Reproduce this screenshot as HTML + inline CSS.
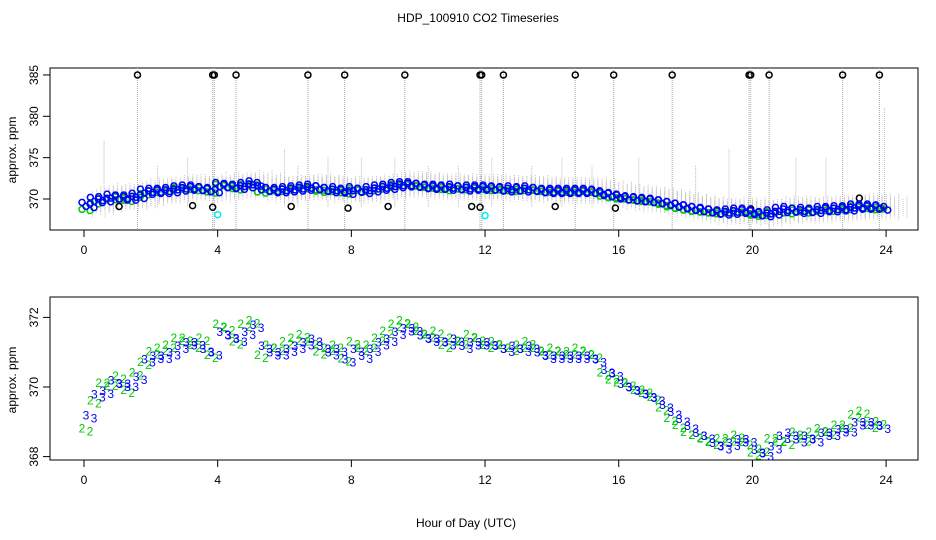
<!DOCTYPE html>
<html><head><meta charset="utf-8"><style>
body{margin:0;background:#fff}
svg{display:block;font-family:"Liberation Sans",sans-serif}
</style></head><body>
<svg id="c" width="936" height="540" xmlns="http://www.w3.org/2000/svg">
<text x="478" y="22" font-size="12" text-anchor="middle">HDP_100910  CO2 Timeseries</text>
<text x="466" y="527" font-size="12" text-anchor="middle">Hour of Day (UTC)</text>
<text transform="translate(16,150) rotate(-90)" font-size="12" text-anchor="middle">approx. ppm</text>
<text transform="translate(16,380) rotate(-90)" font-size="12" text-anchor="middle">approx. ppm</text>
<g id="top"></g>
<g id="bot"></g>
</svg>
<script>
const hours=[0,0.25,0.5,0.75,1,1.25,1.5,1.75,2,2.25,2.5,2.75,3,3.25,3.5,3.75,4,4.25,4.5,4.75,5,5.25,5.5,5.75,6,6.25,6.5,6.75,7,7.25,7.5,7.75,8,8.25,8.5,8.75,9,9.25,9.5,9.75,10,10.25,10.5,10.75,11,11.25,11.5,11.75,12,12.25,12.5,12.75,13,13.25,13.5,13.75,14,14.25,14.5,14.75,15,15.25,15.5,15.75,16,16.25,16.5,16.75,17,17.25,17.5,17.75,18,18.25,18.5,18.75,19,19.25,19.5,19.75,20,20.25,20.5,20.75,21,21.25,21.5,21.75,22,22.25,22.5,22.75,23,23.25,23.5,23.75];
const blueVals=[369.3,369.9,370.0,370.3,370.2,370.2,370.4,370.9,371.0,371.0,371.1,371.3,371.4,371.4,371.2,371.1,371.7,371.6,371.5,371.7,371.9,371.3,371.1,371.1,371.2,371.3,371.4,371.5,371.3,371.1,371.2,370.9,371.2,371.0,371.2,371.4,371.5,371.7,371.8,371.8,371.6,371.5,371.5,371.4,371.5,371.3,371.4,371.4,371.4,371.3,371.2,371.3,371.2,371.3,371.1,371.0,371.0,371.0,371.0,371.0,371.0,370.9,370.6,370.5,370.2,370.1,370.0,369.9,369.8,369.6,369.4,369.2,369.0,368.8,368.7,368.5,368.4,368.5,368.6,368.6,368.3,368.2,368.4,368.7,368.8,368.6,368.7,368.6,368.8,368.8,368.9,368.9,369.1,369.1,369.1,369.0];
const greenVals=[368.9,369.7,370.2,370.2,370.4,370.0,370.5,370.8,371.1,371.2,371.3,371.5,371.5,371.3,371.5,371.0,371.9,371.8,371.4,371.9,372.0,371.0,371.3,371.2,371.4,371.5,371.6,371.4,371.1,371.2,371.3,370.9,371.4,371.2,371.3,371.5,371.7,371.9,372.0,371.9,371.7,371.6,371.7,371.3,371.5,371.4,371.6,371.5,371.3,371.4,371.3,371.2,371.3,371.4,371.2,371.1,371.2,371.1,371.1,371.2,371.1,371.0,370.5,370.3,370.3,370.2,370.0,370.0,369.8,369.5,369.2,369.0,368.8,368.7,368.6,368.5,368.6,368.6,368.7,368.5,368.2,368.3,368.6,368.6,368.5,368.8,368.6,368.8,368.9,368.8,369.0,369.0,369.3,369.4,369.0,369.1];
const spikeHours=[1.6,3.85,3.9,4.55,6.7,7.8,9.6,11.85,11.9,12.55,14.7,15.85,17.6,19.9,19.95,20.5,22.7,23.8];
const midSpikeHours=[0.6,2.2,3.1,6.0,6.4,7.3,8.3,9.3,10.3,11.2,12.2,13.4,14.3,15.2,16.6,18.3,19.3,21.3,22.2,23.95];
const midSpikeVals=[377,374,375,376,374,375,375,375,374,374,375,374,375,374,375,374,376,375,375,381];
const lowHours=[1.05,3.25,3.85,6.2,7.9,9.1,11.6,11.85,14.1,15.9,19.95,23.2,23.85];
const lowVals=[369.1,369.2,369.0,369.1,368.9,369.1,369.1,369.0,369.1,368.9,368.8,370.1,368.9];
const cyanHours=[4.0,12.0,20.0];
const cyanVals=[368.1,368.0,368.1];
const xTicks=[0,4,8,12,16,20,24];
const topTicks=[370,375,380,385];
const botTicks=[368,370,372];

const NS="http://www.w3.org/2000/svg";
function mk(p,t,a){const e=document.createElementNS(NS,t);for(const k in a)e.setAttribute(k,a[k]);p.appendChild(e);return e;}
const X=h=>84+h*33.42;
const YT=v=>199-(v-370)*8.27;
const YB=v=>387-(v-370)*34.8;
const topG=document.getElementById('top'),botG=document.getElementById('bot');
// marker scatter pattern (pixel styling offsets)
const jdx=[-6,-2,2,6];
const jdyB=[-6,4,-2,7];
const jdyG=[3,-5,6,-1];

function frame(g,y0,y1,ticks,Y,nm){
  const r=mk(g,'rect',{x:50,y:y0,width:868,height:y1-y0,fill:'none',stroke:'#000'});
  
  
  xTicks.forEach(t=>{
    mk(g,'line',{x1:X(t),x2:X(t),y1:y1,y2:y1+7,stroke:'#000'});
    const tx=mk(g,'text',{x:X(t),y:y1+24,'font-size':12,'text-anchor':'middle'});
    tx.textContent=t;
    
    
  });
  ticks.forEach(t=>{
    mk(g,'line',{x1:43,x2:50,y1:Y(t),y2:Y(t),stroke:'#000'});
    const tx=mk(g,'text',{transform:`translate(38,${Y(t)}) rotate(-90)`,'font-size':12,'text-anchor':'middle'});
    tx.textContent=t;
    
    
  });
}
frame(topG,68,230,topTicks,YT,'top');
frame(botG,297,460,botTicks,YB,'bottom');

const noise=mk(topG,'g',{stroke:'#c4c4c4','stroke-width':1,'stroke-dasharray':'1,1'});


hours.forEach((h,i)=>{
  for(let k=0;k<8;k++){const x=X(h)+k*4.2;const e=(k%3)*0.3;mk(noise,'line',{x1:x,x2:x,y1:YT(blueVals[i]+1.0+e),y2:YT(blueVals[i]-1.0-e)});}
});
midSpikeHours.forEach((h,i)=>{
  const l=mk(topG,'line',{x1:X(h),x2:X(h),y1:YT(midSpikeVals[i]),y2:YT(369),stroke:'#bbb','stroke-dasharray':'1,1'});
  
  
});
spikeHours.forEach(h=>{
  const l=mk(topG,'line',{x1:X(h),x2:X(h),y1:68,y2:230,stroke:'#aaa','stroke-dasharray':'1,1'});
  
  
  const c=mk(topG,'circle',{cx:X(h),cy:YT(385),r:3,fill:'none',stroke:'#000','stroke-width':1.5});
  
  
});
lowHours.forEach((h,i)=>{
  const c=mk(topG,'circle',{cx:X(h),cy:YT(lowVals[i]),r:3,fill:'none',stroke:'#000','stroke-width':1.5});
  
  
});
cyanHours.forEach((h,i)=>{
  const c=mk(topG,'circle',{cx:X(h),cy:YT(cyanVals[i]),r:3,fill:'none',stroke:'#0ee','stroke-width':1.5});
  
  
});
hours.forEach((h,i)=>{
  [0,2].forEach(k=>{
    const g=mk(topG,'circle',{cx:X(h)+jdx[k]+4,cy:YT(greenVals[i])+jdyG[k]*0.4,r:3,fill:'none',stroke:'#0c0','stroke-width':1.5});
    
    
  });
});
hours.forEach((h,i)=>{
  for(let k=0;k<4;k++){
    const c=mk(topG,'circle',{cx:X(h)+jdx[k]+4,cy:YT(blueVals[i])+jdyB[k]*0.4,r:3,fill:'none',stroke:'#00f','stroke-width':1.5});
    
    
  }
});

hours.forEach((h,i)=>{
  [0,2].forEach(k=>{
    const t=mk(botG,'text',{x:X(h)+jdx[k]+4,y:YB(greenVals[i])+4+jdyG[k],'font-size':12,fill:'#0c0','text-anchor':'middle'});
    t.textContent='2';
    
    
  });
});
hours.forEach((h,i)=>{
  [1,3].forEach(k=>{
    const t=mk(botG,'text',{x:X(h)+jdx[k]+4,y:YB(blueVals[i])+4+jdyB[k],'font-size':12,fill:'#00f','text-anchor':'middle'});
    t.textContent='3';
    
    
  });
});
</script>
</body></html>
